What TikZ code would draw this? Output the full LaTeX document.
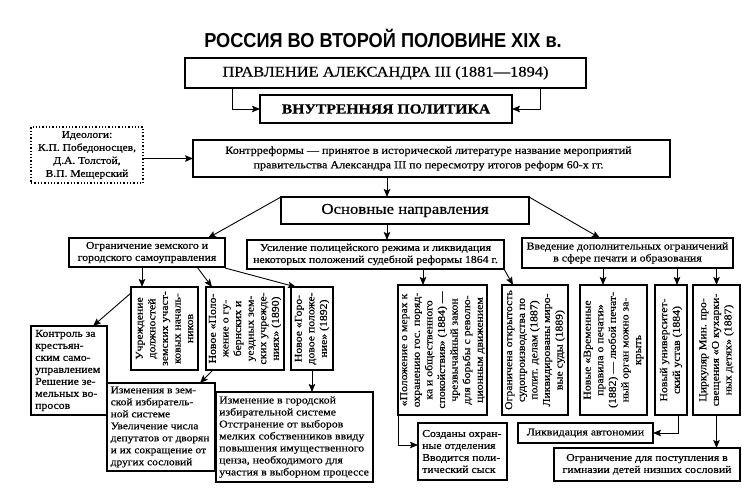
\documentclass[tikz,border=0pt]{standalone}
\usepackage{fontspec}
\setmainfont{Liberation Serif}[FakeStretch=1.12,FakeBold=0.5]
\newfontfamily\titlefont{Liberation Sans}[FakeStretch=0.9]
\usetikzlibrary{arrows.meta}
\tikzset{
 box/.style={draw, line width=1.3pt, inner sep=0pt, outer sep=0pt},
 dbox/.style={draw, line width=1.3pt, dotted, inner sep=0pt, outer sep=0pt},
 txt/.style={inner sep=0pt, font=\fontsize{10.5}{12}\selectfont},
 rtxt/.style={inner sep=0pt, font=\fontsize{10.5}{12.6}\selectfont, rotate=90, align=center},
 ltxt/.style={txt, align=left, anchor=west},
 arr/.style={line width=0.9pt, -{Stealth[length=8pt,width=6.5pt,inset=1.5pt]}}
}
\newcommand\mybox[6][box]{\node[#1, minimum width={#4pt-#2pt}, minimum height={#5pt-#3pt}] (#6) at ({(#2+#4)/2},{(#3+#5)/2}) {};}
\begin{document}
\begin{tikzpicture}[x=1pt,y=-1pt]
\path[use as bounding box] (0,0) rectangle (742,500);
\node[inner sep=0pt, font=\titlefont\bfseries\fontsize{20.2}{20}\selectfont] (title) at (383,38) {РОССИЯ ВО ВТОРОЙ ПОЛОВИНЕ XIX в.};

\mybox{185}{58}{586}{88}{prav}
\node[txt, font=\fontsize{14.7}{15}\selectfont] (tprav) at (prav.center) {ПРАВЛЕНИЕ АЛЕКСАНДРА III (1881—1894)};
\mybox{260}{95}{512}{123}{vnutr}
\node[txt, font=\bfseries\fontsize{14}{14}\selectfont] (tvnutr) at (vnutr.center) {ВНУТРЕННЯЯ ПОЛИТИКА};

\mybox[dbox]{31}{127}{143}{183}{ideo}
\node[txt, align=center, font=\fontsize{10.3}{13}\selectfont] (tideo) at (ideo.center) {Идеологи:\\К.П. Победоносцев,\\Д.А. Толстой,\\В.П. Мещерский};

\mybox{193}{140}{670}{177}{kontr}
\node[txt, align=center, font=\fontsize{10.8}{14.5}\selectfont] (tkontr) at ([xshift=-3pt]kontr.center) {Контрреформы — принятое в исторической литературе название мероприятий\\правительства Александра III по пересмотру итогов реформ 60-х гг.};

\mybox{281}{197}{529}{224}{osn}
\node[txt, font=\fontsize{15}{16}\selectfont] (tosn) at (osn.center) {Основные направления};

\mybox{69}{238}{225}{267}{ogr}
\node[txt, align=center] (togr) at (ogr.center) {Ограничение земского и\\городского самоуправления};
\mybox{247}{240}{504}{269}{usil}
\node[txt, align=center] (tusil) at (usil.center) {Усиление полицейского режима и ликвидация\\некоторых положений судебной реформы 1864 г.};
\mybox{522}{238}{733}{268}{vved}
\node[txt, align=center] (tvved) at (vved.center) {Введение дополнительных ограничений\\в сфере печати и образования};

\mybox{131}{287}{198}{370}{uch}
\node[rtxt] (tuch) at (uch.center) {Учреждение\\должностей\\земских участ-\\ковых началь-\\ников};
\mybox{206}{287}{284}{370}{polozh}
\node[rtxt] (tpolozh) at (polozh.center) {Новое «Поло-\\жение о гу-\\бернских и\\уездных зем-\\ских учрежде-\\ниях» (1890)};
\mybox{291}{287}{333}{370}{gorod}
\node[rtxt] (tgorod) at (gorod.center) {Новое «Горо-\\довое положе-\\ние» (1892)};

\mybox{31}{326}{107}{415}{kontrol}
\node[ltxt] (tkontrol) at ([xshift=4pt]kontrol.west) {Контроль за\\крестьян-\\ским само-\\управлением\\Решение зе-\\мельных во-\\просов};
\mybox{107}{383}{215}{471}{izmz}
\node[ltxt, font=\fontsize{10.2}{12}\selectfont] (tizmz) at ([xshift=3.5pt]izmz.west) {Изменения в зем-\\ской избиратель-\\ной системе\\Увеличение числа\\депутатов от дворян\\и их сокращение от\\других сословий};
\mybox{216}{392}{373}{482}{izmg}
\node[ltxt] (tizmg) at ([xshift=3pt]izmg.west) {Изменение в городской\\избирательной системе\\Отстранение от выборов\\мелких собственников ввиду\\повышения имущественного\\ценза, необходимого для\\участия в выборном процессе};

\mybox{398}{285}{487}{415}{mer}
\node[rtxt] (tmer) at (mer.center) {«Положение о мерах к\\охранению гос. поряд-\\ка и общественного\\спокойствия» (1884) —\\чрезвычайный закон\\для борьбы с револю-\\ционным движением};
\mybox{502}{285}{568}{415}{ogrot}
\node[rtxt] (togrot) at (ogrot.center) {Ограничена открытость\\судопроизводства по\\полит. делам (1887)\\Ликвидированы миро-\\вые суды (1889)};
\mybox{418}{423}{507}{480}{sozd}
\node[ltxt] (tsozd) at ([xshift=4pt]sozd.west) {Созданы охран-\\ные отделения\\Вводится поли-\\тический сыск};

\mybox{580}{285}{647}{415}{vrem}
\node[rtxt] (tvrem) at (vrem.center) {Новые «Временные\\правила о печати»\\(1882) — любой печат-\\ный орган можно за-\\крыть};
\mybox{655}{285}{687}{415}{univ}
\node[rtxt] (tuniv) at (univ.center) {Новый университет-\\ский устав (1884)};
\mybox{693}{285}{740}{415}{tsirk}
\node[rtxt] (ttsirk) at (tsirk.center) {Циркуляр Мин. про-\\свещения «О кухарки-\\ных детях» (1887)};
\mybox{518}{423}{653}{443}{likv}
\node[txt] (tlikv) at (likv.center) {Ликвидация автономии};
\mybox{554}{448}{740}{481}{gimn}
\node[txt, align=center] (tgimn) at (gimn.center) {Ограничение для поступления в\\гимназии детей низших сословий};

% connectors
\draw[arr] ([xshift=47pt]prav.south west) |- (vnutr.west);
\draw[arr] ([xshift=-46pt]prav.south east) |- (vnutr.east);
\draw[arr] (ideo.east |- kontr.west) -- (kontr.west);
\draw[arr] ([xshift=-44.5pt]kontr.south) -- ([xshift=-18pt]osn.north);
\draw[arr] (osn.north west) -- ([xshift=61pt]ogr.north);
\draw[arr] ([xshift=-18pt]osn.south) -- ([xshift=11.5pt]usil.north);
\draw[arr] (osn.north east) -- ([xshift=-27.5pt]vved.north);
\draw[arr] ([xshift=-5pt]ogr.south) -- ([xshift=-22.5pt]uch.north);
\draw[arr] ([xshift=50pt]ogr.south) -- ([xshift=-33pt]polozh.north);
\draw[arr] ([yshift=-1pt]ogr.south east) -- ([xshift=-16pt]gorod.north);
\draw[arr] ([yshift=-6pt]uch.north west) -- ([xshift=24pt]kontrol.north);
\draw[arr] ([xshift=7pt]polozh.south west) -- ([xshift=-15pt]izmz.north east);
\draw[arr] (gorod.south) -- (gorod.south |- izmg.north);
\draw[arr] ([xshift=47.5pt]usil.south) -- ([xshift=-19.5pt]mer.north);
\draw[arr] (usil.south east) -- ([xshift=-22pt]ogrot.north);
\draw[arr] (mer.south west) |- ([yshift=6.5pt]sozd.west);
\draw[arr] ([xshift=-24.5pt]vved.south) -- ([xshift=-10.5pt]vrem.north);
\draw[arr] ([xshift=49.5pt]vved.south) -- ([xshift=6pt]univ.north);
\draw[arr] (vved.south -| tsirk.north) -- (tsirk.north);
\draw[arr] ([xshift=7pt]univ.south) |- (likv.east);
\draw[arr] (tsirk.south) -- (tsirk.south |- gimn.north);
\end{tikzpicture}
\end{document}
